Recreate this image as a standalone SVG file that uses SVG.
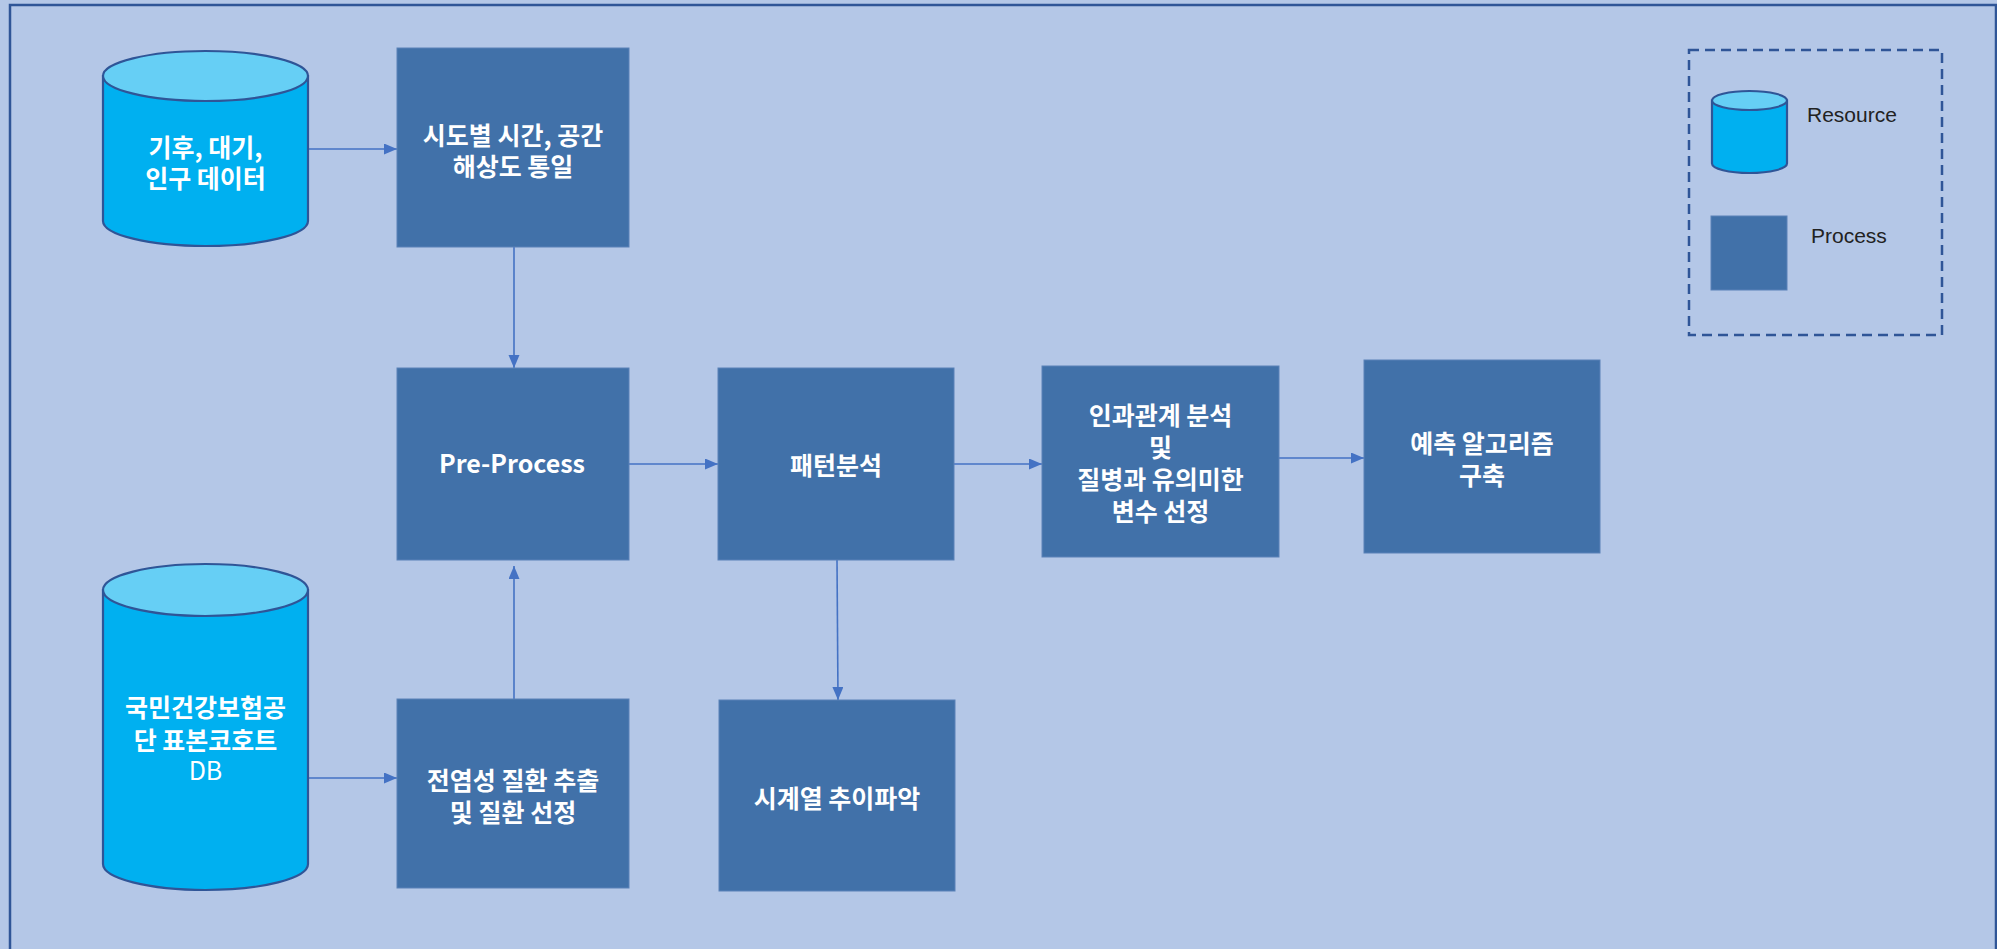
<svg xmlns="http://www.w3.org/2000/svg" width="1997" height="949" viewBox="0 0 1997 949">
<defs>
<style>
.bg{fill:#B4C7E7}
.frame{fill:none;stroke:#2F5597;stroke-width:2.5}
.proc{fill:#4171A9;stroke:#5A82B8;stroke-width:1}
.cylbody{fill:#00B0F0;stroke:#2F5597;stroke-width:2.2}
.cyltop{fill:#66CFF5;stroke:#2F5597;stroke-width:2.2}
.t{font-family:"Noto Sans CJK KR","Liberation Sans",sans-serif;font-size:25px;font-weight:bold;fill:#FFFFFF;text-anchor:middle}
.tn{font-weight:normal}
.lg{font-family:"Liberation Sans","Noto Sans",sans-serif;font-size:21px;fill:#222222}
.conn{stroke:#4472C4;stroke-width:1.6;fill:none;marker-end:url(#arr)}
.legbox{fill:none;stroke:#2F5597;stroke-width:2.5;stroke-dasharray:10 6}
</style>
<marker id="arr" markerUnits="userSpaceOnUse" markerWidth="14" markerHeight="12" refX="13" refY="5.5" orient="auto">
<path d="M0,0 L13,5.5 L0,11 Z" fill="#4472C4"/>
</marker>
</defs>
<rect class="bg" x="0" y="0" width="1997" height="949"/>
<rect class="frame" x="10" y="5" width="1986" height="980"/>

<g id="connectors">
<line class="conn" x1="308" y1="149" x2="397" y2="149"/>
<line class="conn" x1="514" y1="247" x2="514" y2="368"/>
<line class="conn" x1="514" y1="699" x2="514" y2="566"/>
<line class="conn" x1="308" y1="778" x2="397" y2="778"/>
<line class="conn" x1="629" y1="464" x2="718" y2="464"/>
<line class="conn" x1="954" y1="464" x2="1042" y2="464"/>
<line class="conn" x1="1279" y1="458" x2="1364" y2="458"/>
<line class="conn" x1="837" y1="560" x2="838" y2="700"/>
</g>

<g id="res-climate">
<path class="cylbody" d="M103,76 L103,221 A102.5,25 0 0 0 308,221 L308,76 Z"/>
<ellipse class="cyltop" cx="205.5" cy="76" rx="102.5" ry="25"/>
<text class="t" x="205.5" y="157">기후, 대기,</text>
<text class="t" x="205.5" y="188">인구 데이터</text>
</g>

<g id="res-nhis">
<path class="cylbody" d="M103,590 L103,864 A102.5,26 0 0 0 308,864 L308,590 Z"/>
<ellipse class="cyltop" cx="205.5" cy="590" rx="102.5" ry="26"/>
<text class="t" x="205.5" y="717">국민건강보험공</text>
<text class="t" x="205.5" y="750">단 표본코호트</text>
<text class="t tn" x="205.5" y="780">DB</text>
</g>

<g id="proc-unify">
<rect class="proc" x="397" y="48" width="232" height="199"/>
<text class="t" x="513" y="145">시도별 시간, 공간</text>
<text class="t" x="513" y="176">해상도 통일</text>
</g>

<g id="proc-preprocess">
<rect class="proc" x="397" y="368" width="232" height="192"/>
<text class="t" x="512" y="473">Pre-Process</text>
</g>

<g id="proc-disease">
<rect class="proc" x="397" y="699" width="232" height="189"/>
<text class="t" x="513" y="790">전염성 질환 추출</text>
<text class="t" x="513" y="822">및 질환 선정</text>
</g>

<g id="proc-pattern">
<rect class="proc" x="718" y="368" width="236" height="192"/>
<text class="t" x="836" y="475">패턴분석</text>
</g>

<g id="proc-timeseries">
<rect class="proc" x="719" y="700" width="236" height="191"/>
<text class="t" x="837" y="808">시계열 추이파악</text>
</g>

<g id="proc-causal">
<rect class="proc" x="1042" y="366" width="237" height="191"/>
<text class="t" x="1160.5" y="425">인과관계 분석</text>
<text class="t" x="1160.5" y="457">및</text>
<text class="t" x="1160.5" y="489">질병과 유의미한</text>
<text class="t" x="1160.5" y="521">변수 선정</text>
</g>

<g id="proc-predict">
<rect class="proc" x="1364" y="360" width="236" height="193"/>
<text class="t" x="1482" y="453">예측 알고리즘</text>
<text class="t" x="1482" y="485">구축</text>
</g>

<g id="legend">
<rect class="legbox" x="1689" y="50" width="253" height="285"/>
<path class="cylbody" d="M1712,100.5 L1712,163.5 A37.5,9.5 0 0 0 1787,163.5 L1787,100.5 Z"/>
<ellipse class="cyltop" cx="1749.5" cy="100.5" rx="37.5" ry="9.5"/>
<text class="lg" x="1807" y="122">Resource</text>
<rect class="proc" x="1711" y="216" width="76" height="74"/>
<text class="lg" x="1811" y="243">Process</text>
</g>
</svg>
